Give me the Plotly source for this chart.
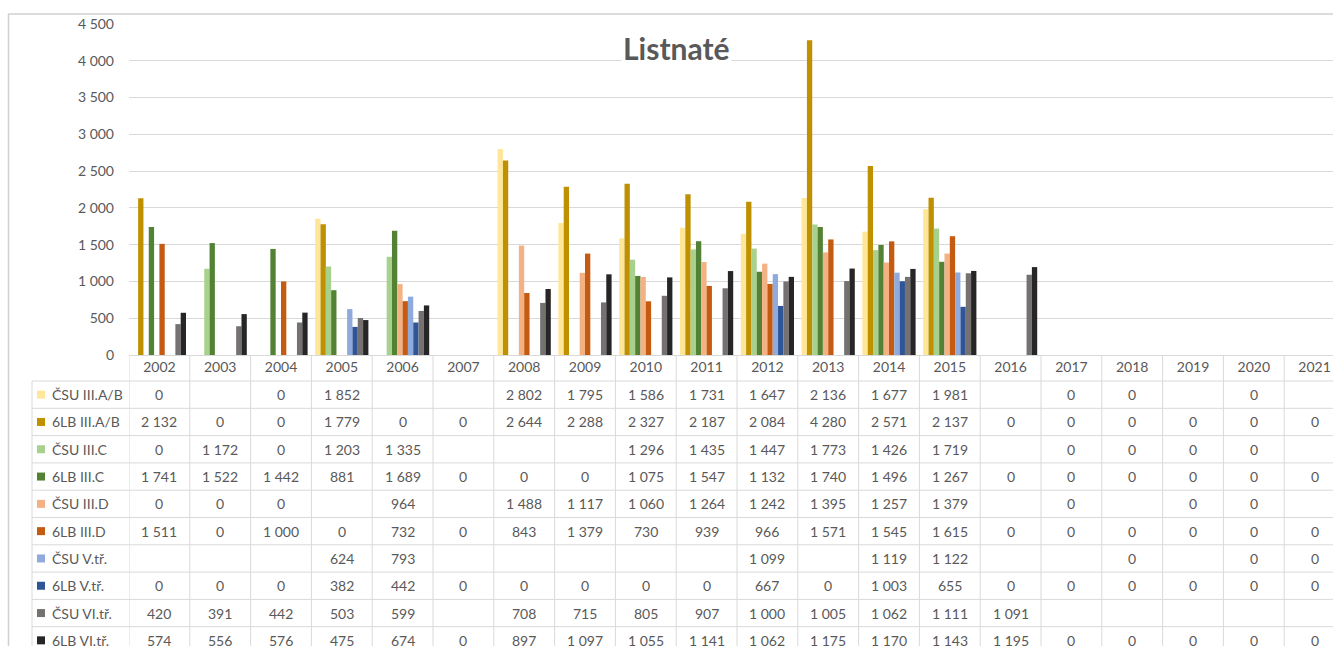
import plotly.graph_objects as go

years = [str(y) for y in range(2002, 2022)]

series_names = ["ČSU III.A/B", "6LB III.A/B", "ČSU III.C", "6LB III.C", "ČSU III.D",
                "6LB III.D", "ČSU V.tř.", "6LB V.tř.", "ČSU VI.tř.", "6LB VI.tř."]

N = None
csu_3ab = [0, N, 0, 1852, N, N, 2802, 1795, 1586, 1731, 1647, 2136, 1677, 1981, N, 0, 0, N, 0, N]
lb_3ab = [2132, 0, 0, 1779, 0, 0, 2644, 2288, 2327, 2187, 2084, 4280, 2571, 2137, 0, 0, 0, 0, 0, 0]
csu_3c = [0, 1172, 0, 1203, 1335, N, N, N, 1296, 1435, 1447, 1773, 1426, 1719, N, 0, 0, 0, 0, N]
lb_3c = [1741, 1522, 1442, 881, 1689, 0, 0, 0, 1075, 1547, 1132, 1740, 1496, 1267, 0, 0, 0, 0, 0, 0]
csu_3d = [0, 0, 0, N, 964, N, 1488, 1117, 1060, 1264, 1242, 1395, 1257, 1379, N, 0, N, 0, 0, N]
lb_3d = [1511, 0, 1000, 0, 732, 0, 843, 1379, 730, 939, 966, 1571, 1545, 1615, 0, 0, 0, 0, 0, 0]
csu_5 = [N, N, N, 624, 793, N, N, N, N, N, 1099, N, 1119, 1122, N, N, 0, N, 0, 0]
lb_5 = [0, 0, 0, 382, 442, 0, 0, 0, 0, 0, 667, 0, 1003, 655, 0, 0, 0, 0, 0, 0]
csu_6 = [420, 391, 442, 503, 599, N, 708, 715, 805, 907, 1000, 1005, 1062, 1111, 1091, N, N, N, N, N]
lb_6 = [574, 556, 576, 475, 674, 0, 897, 1097, 1055, 1141, 1062, 1175, 1170, 1143, 1195, 0, 0, 0, 0, 0]

series_values = [csu_3ab, lb_3ab, csu_3c, lb_3c, csu_3d, lb_3d, csu_5, lb_5, csu_6, lb_6]

colors = ["#FFE699", "#BF9000", "#A9D18E", "#548235", "#F4B183",
          "#C55A11", "#8FAADC", "#2F5597", "#767171", "#262626"]

y_ticks = list(range(0, 5000, 500))
title_text = "Listnaté"

# ---- layout geometry (page pixels; body margin removed below) ----
W, H = 1333, 646
PLOT_LEFT, PLOT_TOP, PLOT_BOTTOM = 129, 24, 355
L = PLOT_LEFT
T = PLOT_TOP
B = H - PLOT_BOTTOM
PW, PH = W - L, H - T - B
cat_px = 60.8
x_max = -0.5 + PW / cat_px

def px_x(px):
    return (px - PLOT_LEFT) / PW

def px_y(py):
    return (PLOT_BOTTOM - py) / PH

FONT = "Lato, Carlito, Calibri, sans-serif"
TXT = "#595959"
GRID = "#D9D9D9"

def fmt(v):
    if v is None:
        return ""
    return f"{v:,}".replace(",", " ")

fig = go.Figure()
for name, vals, col in zip(series_names, series_values, colors):
    fig.add_trace(go.Bar(x=years, y=vals, name=name, marker_color=col,
                         marker_line_width=0, hoverinfo="x+y+name"))

row_top0 = 381.0
row_h = 27.3
legend_left = 32

shapes = []
annotations = []

# horizontal table lines
for i in range(11):
    yy = row_top0 + i * row_h
    shapes.append(dict(type="line", xref="paper", yref="paper",
                       x0=px_x(legend_left), x1=1.02, y0=px_y(yy), y1=px_y(yy),
                       line=dict(color=GRID, width=1)))
# vertical table lines at category boundaries
for i in range(len(years) + 1):
    shapes.append(dict(type="line", xref="x", yref="paper",
                       x0=i - 0.5, x1=i - 0.5, y0=0, y1=px_y(660),
                       line=dict(color=GRID, width=1)))
# legend column left border
shapes.append(dict(type="line", xref="paper", yref="paper",
                   x0=px_x(legend_left), x1=px_x(legend_left), y0=px_y(row_top0), y1=px_y(660),
                   line=dict(color=GRID, width=1)))
# outer chart frame
shapes.append(dict(type="line", xref="paper", yref="paper",
                   x0=px_x(8), x1=1.02, y0=px_y(14), y1=px_y(14),
                   line=dict(color="#D0D0D0", width=1.5)))
shapes.append(dict(type="line", xref="paper", yref="paper",
                   x0=px_x(8.5), x1=px_x(8.5), y0=px_y(14), y1=px_y(660),
                   line=dict(color="#D0D0D0", width=1.5)))

# table rows
for r, (name, vals, col) in enumerate(zip(series_names, series_values, colors)):
    yc = row_top0 + (r + 0.5) * row_h
    shapes.append(dict(type="rect", xref="paper", yref="paper",
                       x0=px_x(37), x1=px_x(45), y0=px_y(yc - 4), y1=px_y(yc + 4),
                       fillcolor=col, line=dict(width=0)))
    annotations.append(dict(xref="paper", yref="paper", x=px_x(50), y=px_y(yc),
                            xanchor="left", yanchor="middle", text=name, showarrow=False,
                            font=dict(family=FONT, size=14, color=TXT)))
    for c, v in enumerate(vals):
        if v is None:
            continue
        annotations.append(dict(xref="x", yref="paper", x=c, y=px_y(yc),
                                xanchor="center", yanchor="middle", text=fmt(v),
                                showarrow=False, font=dict(family=FONT, size=14, color=TXT)))

# title
annotations.append(dict(xref="paper", yref="paper", x=px_x(676), y=px_y(48),
                        xanchor="center", yanchor="middle", text=f"<b>{title_text}</b>",
                        showarrow=False, bgcolor="white",
                        font=dict(family=FONT, size=30, color="#595959")))

fig.update_layout(
    width=W, height=H,
    margin=dict(l=L, r=0, t=T, b=B, pad=0),
    paper_bgcolor="white", plot_bgcolor="white",
    barmode="group", bargap=0.125, bargroupgap=0,
    showlegend=False,
    separators=", ",
    font=dict(family=FONT, size=14, color=TXT),
    shapes=shapes, annotations=annotations,
    xaxis=dict(type="category", categoryorder="array", categoryarray=years,
               range=[-0.5, x_max], showgrid=False, showline=False, zeroline=False,
               ticks="", tickfont=dict(family=FONT, size=14, color=TXT),
               ticklabelstandoff=2, fixedrange=True),
    yaxis=dict(range=[0, 4500], tickvals=y_ticks, tickformat=",d",
               showgrid=True, gridcolor=GRID, gridwidth=1,
               zeroline=True, zerolinecolor=GRID, zerolinewidth=1,
               showline=False, ticks="", ticklabelstandoff=14,
               tickfont=dict(family=FONT, size=14, color=TXT), fixedrange=True),
)

fig.write_html("out.html",
               config={"displayModeBar": False},
               post_script="document.body.style.margin='0';document.body.style.overflow='hidden';")
